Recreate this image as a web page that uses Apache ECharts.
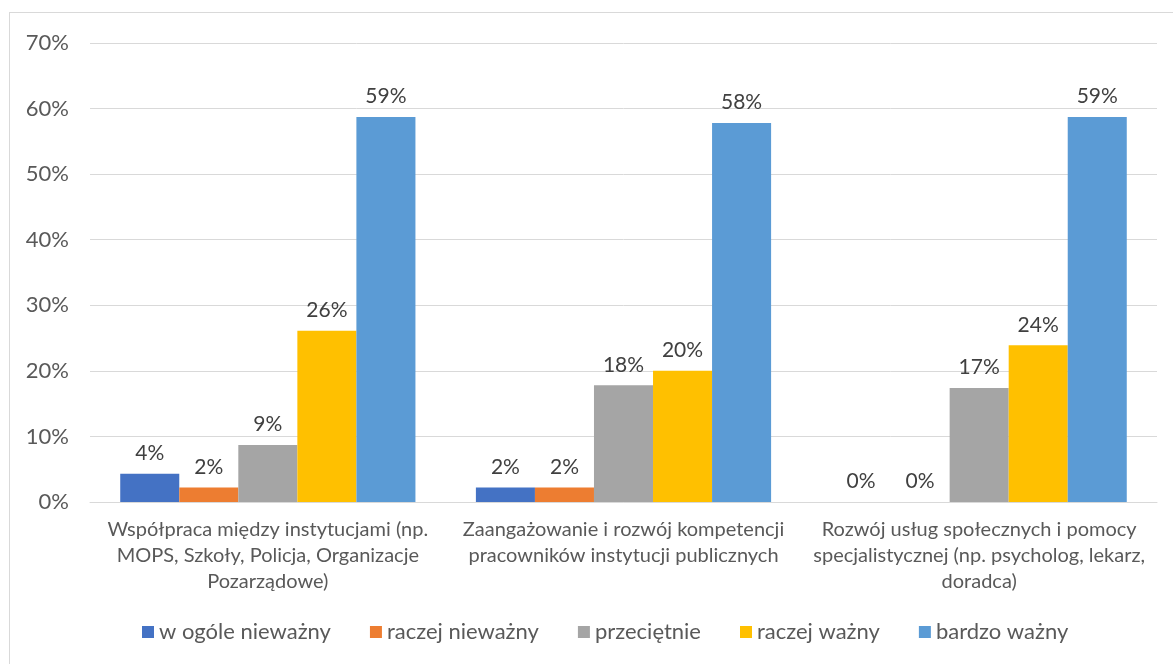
<!DOCTYPE html>
<html><head><meta charset="utf-8">
<script src="https://cdn.jsdelivr.net/npm/echarts@6/dist/echarts.min.js"></script>
<style>
html,body{margin:0;padding:0;background:#fff;}
#frame{position:absolute;left:9px;top:12px;width:1200px;height:700px;border-left:1px solid #d9d9d9;border-top:1px solid #d9d9d9;}
#c{position:absolute;left:0;top:0;width:1173px;height:664px;}
</style></head>
<body>
<div id="frame"></div>
<div id="c"></div>
<script>
const categories = [
  'Współpraca między instytucjami (np.\nMOPS, Szkoły, Policja, Organizacje\nPozarządowe)',
  'Zaangażowanie i rozwój kompetencji\npracowników instytucji publicznych',
  'Rozwój usług społecznych i pomocy\nspecjalistycznej (np. psycholog, lekarz,\ndoradca)'
];
const seriesNames = ['w ogóle nieważny','raczej nieważny','przeciętnie','raczej ważny','bardzo ważny'];
const wOgoleNiewazny = [4.3, 2.2, 0];
const raczejNiewazny = [2.2, 2.2, 0];
const przecietnie = [8.7, 17.8, 17.4];
const raczejWazny = [26.1, 20.0, 23.9];
const bardzoWazny = [58.7, 57.8, 58.7];
const colors = ['#4472C4','#ED7D31','#A5A5A5','#FFC000','#5B9BD5'];
const FONT = 'Lato';
const allData = [wOgoleNiewazny, raczejNiewazny, przecietnie, raczejWazny, bardzoWazny];
const chart = echarts.init(document.getElementById('c'));
chart.setOption({
  animation:false,
  color: colors,
  textStyle:{fontFamily:FONT},
  grid:{left:90,right:16,top:43,bottom:162,containLabel:false},
  legend:{
    bottom:16,left:137,itemWidth:12,itemHeight:12,itemGap:39,icon:'rect',
    textStyle:{fontFamily:FONT,fontSize:22,color:'#595959'},
    data: seriesNames
  },
  xAxis:{
    type:'category',data:categories,
    axisLine:{lineStyle:{color:'#d9d9d9',width:1}},
    axisTick:{show:false},
    axisLabel:{fontFamily:FONT,fontSize:20,color:'#595959',lineHeight:26,margin:15,interval:0}
  },
  yAxis:{
    type:'value',min:0,max:70,interval:10,
    axisLine:{show:false},axisTick:{show:false},
    splitLine:{lineStyle:{color:'#d9d9d9',width:1}},
    axisLabel:{fontFamily:FONT,fontSize:22,color:'#595959',margin:21,formatter:v=>v+'%'}
  },
  series: seriesNames.map((n,i)=>({
    name:n,type:'bar',data:allData[i],barGap:'0%',barCategoryGap:'17%',
    label:{show:true,position:'top',distance:10,fontFamily:FONT,fontSize:21,color:'#404040',
      formatter:p=>Math.round(p.value)+'%'}
  }))
});
</script>
</body></html>
